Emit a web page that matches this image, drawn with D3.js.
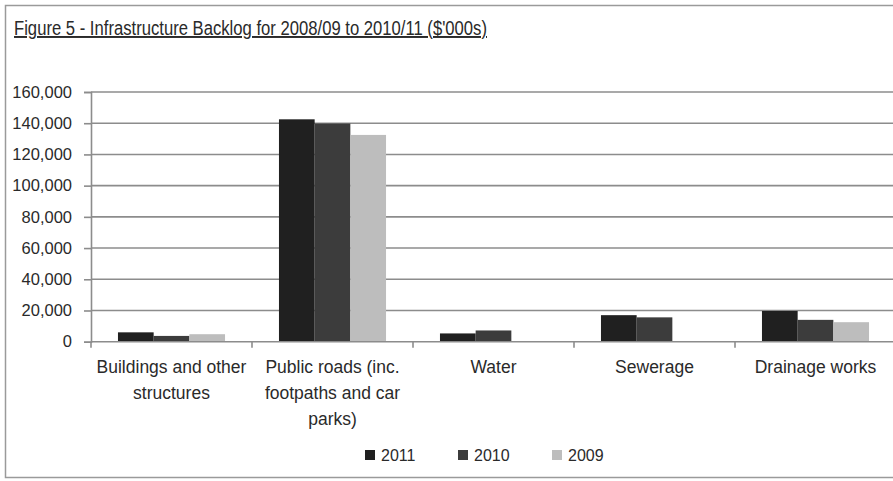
<!DOCTYPE html>
<html><head><meta charset="utf-8">
<script src="https://cdn.jsdelivr.net/npm/d3@7"></script>
<style>
html,body{margin:0;padding:0;background:#fff;}
svg{display:block;}
text{font-family:"Liberation Sans",Arial,sans-serif;fill:#2a2a2a;}
</style></head>
<body>
<svg id="chart" width="893" height="481"></svg>
<script>
const categories = [
  ["Buildings and other", "structures"],
  ["Public roads (inc.", "footpaths and car", "parks)"],
  ["Water"],
  ["Sewerage"],
  ["Drainage works"]
];
const seriesNames = ["2011", "2010", "2009"];
const values2011 = [6000, 142500, 5300, 17000, 19700];
const values2010 = [3700, 139800, 7200, 15600, 14000];
const values2009 = [4800, 132500, 0, 0, 12500];
const yTicks = [0, 20000, 40000, 60000, 80000, 100000, 120000, 140000, 160000];
const colors = ["#202020", "#3c3c3c", "#bdbdbd"];
const titleText = "Figure 5 - Infrastructure Backlog for 2008/09 to 2010/11 ($'000s)";

const FONT = '"Liberation Sans",Arial,sans-serif';
const svg = d3.select("#chart");
const W = 893, H = 481;
const margin = {left: 91, top: 92, bottom: 139};
const plotRight = 896;
const series = [values2011, values2010, values2009];

// frame
svg.append("rect").attr("x", 5.5).attr("y", 5.5).attr("width", 900).attr("height", 472)
  .attr("fill", "none").attr("stroke", "#9a9a9a").attr("stroke-width", 1.5);

// title
svg.append("text").attr("x", 14).attr("y", 35).attr("font-size", 19.5)
  .attr("textLength", 473).attr("lengthAdjust", "spacingAndGlyphs")
  .attr("text-decoration", "underline").text(titleText);

const idx = d3.range(categories.length);
const x0 = d3.scaleBand().domain(idx).range([margin.left, plotRight])
  .paddingInner(0.335).paddingOuter(0.1675);
const x1 = d3.scaleBand().domain(d3.range(seriesNames.length)).range([0, x0.bandwidth()]);
const y = d3.scaleLinear().domain([0, 160000]).range([H - margin.bottom - 0.3, margin.top]);

// gridlines
svg.append("g").selectAll("line").data(yTicks.filter(d => d > 0)).join("line")
  .attr("x1", margin.left).attr("x2", W).attr("y1", d => y(d)).attr("y2", d => y(d))
  .attr("stroke", "#8c8c8c").attr("stroke-width", 1.6);

// y axis
const yAxis = d3.axisLeft(y).tickValues(yTicks).tickSize(7).tickPadding(12)
  .tickFormat(d3.format(","));
const gy = svg.append("g").attr("transform", `translate(${margin.left},0)`).call(yAxis);
gy.select(".domain").attr("stroke", "#8c8c8c").attr("stroke-width", 1.6);
gy.selectAll(".tick line").attr("stroke", "#8c8c8c").attr("stroke-width", 1.6);
gy.selectAll(".tick text").attr("font-size", 16.5).attr("fill", "#2a2a2a")
  .style("font-family", FONT);

// bars
const groups = svg.append("g").selectAll("g").data(idx).join("g")
  .attr("transform", i => `translate(${x0(i)},0)`);
groups.selectAll("rect").data(i => series.map((s, k) => ({k, v: s[i]}))).join("rect")
  .attr("x", d => x1(d.k)).attr("width", x1.bandwidth())
  .attr("y", d => y(d.v)).attr("height", d => y(0) - y(d.v))
  .attr("fill", d => colors[d.k]);

// x axis baseline & ticks
const gx = svg.append("g");
gx.append("line").attr("x1", margin.left).attr("x2", W).attr("y1", y(0)).attr("y2", y(0))
  .attr("stroke", "#8c8c8c").attr("stroke-width", 1.6);
const step = x0.step();
const bounds = d3.range(categories.length + 1).map(i => x0(0) - x0.paddingOuter() * step + i * step)
  .filter(v => v <= W);
gx.selectAll("line.t").data(bounds).join("line").attr("class", "t")
  .attr("x1", d => d).attr("x2", d => d).attr("y1", y(0)).attr("y2", y(0) + 6)
  .attr("stroke", "#8c8c8c").attr("stroke-width", 1.6);

// category labels
const lab = svg.append("g").selectAll("text").data(idx).join("text")
  .attr("text-anchor", "middle").attr("font-size", 17.5)
  .attr("x", i => x0(i) + x0.bandwidth() / 2).attr("y", 373);
lab.selectAll("tspan").data(i => categories[i]).join("tspan")
  .attr("x", function() { return d3.select(this.parentNode).attr("x"); })
  .attr("dy", (d, j) => j === 0 ? 0 : 26).text(d => d);

// legend
const legX = [365, 458, 552];
const leg = svg.append("g").selectAll("g").data(seriesNames).join("g")
  .attr("transform", (d, k) => `translate(${legX[k]},455)`);
leg.append("rect").attr("x", 0).attr("y", -5).attr("width", 10).attr("height", 10)
  .attr("fill", (d, k) => colors[k]);
leg.append("text").attr("x", 16).attr("y", 6).attr("font-size", 16).text(d => d);
</script>
</body></html>
